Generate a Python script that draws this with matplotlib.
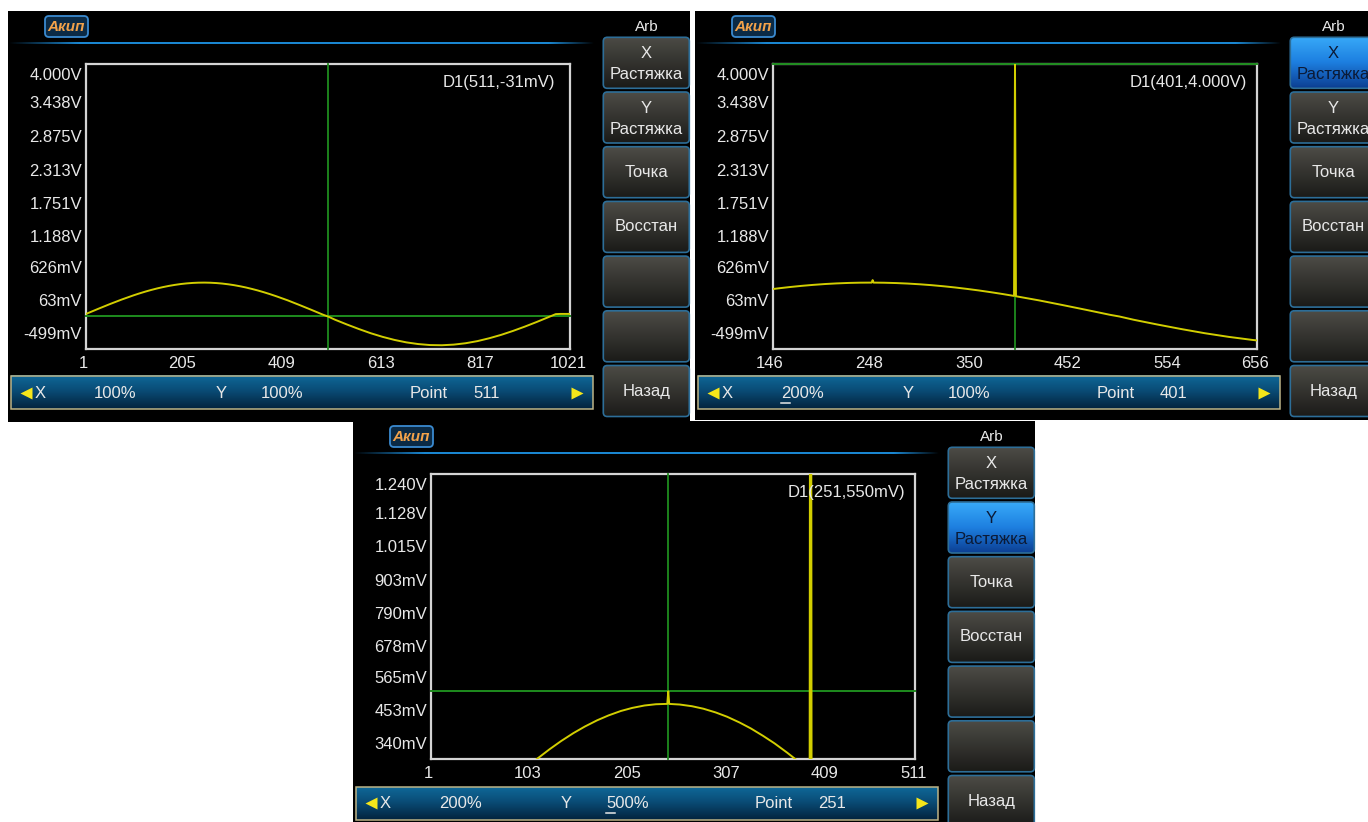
import numpy as np
import matplotlib
matplotlib.use("Agg")
import matplotlib.pyplot as plt
from matplotlib.patches import Rectangle, FancyBboxPatch
from matplotlib.colors import to_rgb

plt.rcParams['font.family'] = ['Liberation Sans', 'DejaVu Sans']

# ---------------------------------------------------------------- data
# arbitrary waveform samples: point index -> output level (V)
WAVE_POINTS = [1, 26, 51, 76, 101, 113, 126, 138, 151, 163, 176, 188, 201,
               213, 226, 238, 250, 251, 252, 263, 276, 288, 301, 313, 326,
               338, 351, 363, 376, 388, 400, 401, 402, 426, 451, 476, 501,
               511, 526, 551, 576, 601, 626, 651, 676, 701, 726, 751, 776,
               801, 826, 851, 876, 901, 926, 951, 976, 991, 1001, 1021]
WAVE_VOLTS = [0.0100, 0.0890, 0.1660, 0.2390, 0.3062, 0.3360, 0.3661, 0.3918,
              0.4171, 0.4379, 0.4578, 0.4733, 0.4874, 0.4972, 0.5049, 0.5089,
              0.5100, 0.5100, 0.5099, 0.5080, 0.5026, 0.4947, 0.4828, 0.4692,
              0.4511, 0.4321, 0.4083, 0.3846, 0.3558, 0.3275, 0.2972, 0.2946,
              0.2920, 0.2270, 0.1520, 0.0750, -0.0040, -0.0310, -0.0830,
              -0.1590, -0.2310, -0.2980, -0.3560, -0.4050, -0.4440, -0.4710,
              -0.4870, -0.4900, -0.4800, -0.4580, -0.4240, -0.3780, -0.3240,
              -0.2610, -0.1920, -0.1180, -0.0400, 0.0070, 0.0100, 0.0100]

# points edited by hand on the second and third screens
EDIT_POINTS = [251, 401]
EDIT_VOLTS = [0.550, 4.000]

# cursor D1 on each screen
CURSOR_POINTS = [511, 401, 251]
CURSOR_VOLTS = [-0.031, 4.000, 0.550]

# visible ranges of each screen
X_RANGES = [(1, 1021), (146, 656), (1, 511)]
Y_RANGES = [(-0.55, 4.0), (-0.55, 4.0), (0.335, 1.240)]

X_LABELS = [["1", "205", "409", "613", "817", "1021"],
            ["146", "248", "350", "452", "554", "656"],
            ["1", "103", "205", "307", "409", "511"]]
Y_LABELS_FULL = ["4.000V", "3.438V", "2.875V", "2.313V", "1.751V", "1.188V",
                 "626mV", "63mV", "-499mV"]
Y_LABELS_X5 = ["1.240V", "1.128V", "1.015V", "903mV", "790mV", "678mV",
               "565mV", "453mV", "340mV"]
Y_LABELS = [Y_LABELS_FULL, Y_LABELS_FULL, Y_LABELS_X5]

X_SCALE = ["100%", "200%", "200%"]
Y_SCALE = ["100%", "100%", "500%"]
EDITED = [False, True, True]
ACTIVE_KEY = [None, 0, 1]
SELECTED_FIELD = [None, "x", "y"]

MENU_KEYS = ["X\nРастяжка", "Y\nРастяжка", "Точка", "Восстан", "", "", "Назад"]

# ---------------------------------------------------------------- layout
W, H = 1368, 822
SCREENS = [(8, 11, 690, 422), (695, 11, 1368, 420), (353, 421, 1035, 822)]
BOX = (78, 53, 562, 338)                    # plot frame inside a screen
Y_LABEL_ROWS = [64, 93, 126, 160, 193, 226, 257, 290, 323]
X_LABEL_COLS = [75, 174.5, 274, 373, 472, 560.5]

TEXT = '#e8e8e8'
GREEN = '#1e8c1e'
TRACE = '#d2ce00'
FS = 12

fig = plt.figure(figsize=(W / 100, H / 100), dpi=100, facecolor='white')
bg = fig.add_axes([0, 0, 1, 1])
bg.axis('off')


def gradient(ax, x0, y0, x1, y1, stops, clip=None, z=1):
    t = np.linspace(0, 1, 96)
    pos = [s[0] for s in stops]
    cols = np.array([to_rgb(s[1]) for s in stops])
    rgb = np.stack([np.interp(t, pos, cols[:, i]) for i in range(3)], axis=-1)
    im = ax.imshow(rgb[:, None, :], extent=(x0, x1, y1, y0), aspect='auto',
                   interpolation='bilinear', origin='upper', zorder=z)
    if clip is not None:
        im.set_clip_path(clip)
    return im


def vfmt(v):
    return f"{v:.3f}V" if abs(v) >= 1 else f"{v * 1000:.0f}mV"


def draw_key(x, y, w, h, label, active):
    patch = FancyBboxPatch((x, y), w, h, boxstyle='round,pad=0,rounding_size=4',
                           fc='none', ec='#2d6e98', lw=1.2, zorder=3)
    bg.add_patch(patch)
    if active:
        stops = [(0, '#38aaf8'), (0.5, '#1d7fe0'), (1, '#0c3f93')]
        col = '#0b1a36'
    else:
        stops = [(0, '#4d4c46'), (1, '#1a1a18')]
        col = TEXT
    gradient(bg, x, y, x + w, y + h, stops, clip=patch, z=2)
    rows = label.split('\n')
    if len(rows) == 2:
        bg.text(x + w / 2, y + 16.5, rows[0], color=col, fontsize=12,
                ha='center', va='center', zorder=4)
        bg.text(x + w / 2, y + 37, rows[1], color=col, fontsize=12,
                ha='center', va='center', zorder=4)
    elif label:
        bg.text(x + w / 2, y + h / 2, label, color=col, fontsize=12,
                ha='center', va='center', zorder=4)


pts = np.array(WAVE_POINTS, dtype=float)

for i, (x0, y0, x1, y1) in enumerate(SCREENS):
    ox, oy = x0, y0
    bg.add_patch(Rectangle((x0, y0), x1 - x0, y1 - y0, fc='black', ec='none', zorder=0.5))

    # logo
    bg.add_patch(FancyBboxPatch((ox + 37, oy + 5), 43, 21,
                                boxstyle='round,pad=0,rounding_size=4',
                                fc='#0b2a45', ec='#3a8ad0', lw=1.3, zorder=2))
    bg.text(ox + 58.5, oy + 16, 'Акип', color='#f2a24a', fontsize=11,
            fontweight='bold', fontstyle='italic', ha='center', va='center', zorder=3)

    # header separator, fading at both ends
    n = 300
    xc = np.linspace(0, 587, n)
    alpha = np.clip(np.minimum(xc / 70, (587 - xc) / 45), 0, 1)
    strip = np.zeros((1, n, 4))
    strip[..., :3] = to_rgb('#1a86d0')
    strip[0, :, 3] = alpha
    bg.imshow(strip, extent=(ox, ox + 587, oy + 33.3, oy + 31.3), aspect='auto',
              interpolation='bilinear', origin='upper', zorder=2)

    bg.text(ox + 638.3, oy + 15.7, 'Arb', color=TEXT, fontsize=11,
            ha='center', va='center', zorder=3)

    # soft keys
    for k, lab in enumerate(MENU_KEYS):
        draw_key(ox + 595.3, oy + 26.3 + 54.7 * k, 86, 51, lab, ACTIVE_KEY[i] == k)

    # plot frame
    ax = fig.add_axes([(ox + BOX[0]) / W, 1 - (oy + BOX[3]) / H,
                       (BOX[2] - BOX[0]) / W, (BOX[3] - BOX[1]) / H])
    ax.set_facecolor('black')
    ax.set_xlim(*X_RANGES[i])
    ax.set_ylim(*Y_RANGES[i])
    ax.set_xticks([])
    ax.set_yticks([])
    for s in ax.spines.values():
        s.set_color('#d4d4d4')
        s.set_linewidth(1.6)

    vals = np.array(WAVE_VOLTS, dtype=float)
    if EDITED[i]:
        for p, v in zip(EDIT_POINTS, EDIT_VOLTS):
            vals[pts == p] = v
    cp, cv = CURSOR_POINTS[i], CURSOR_VOLTS[i]
    ax.axvline(cp, color=GREEN, lw=1.3, zorder=3, clip_on=False)
    ax.axhline(cv, color=GREEN, lw=1.4, zorder=3, clip_on=False)
    ax.plot(pts, vals, color=TRACE, lw=1.4, zorder=4)

    ax.text(ox + 435, oy + 71, f"D1({cp},{vfmt(cv)})", color=TEXT, fontsize=FS,
            ha='left', va='center', transform=bg.transData, zorder=5)

    # axis labels
    for lab, row in zip(Y_LABELS[i], Y_LABEL_ROWS):
        bg.text(ox + 74, oy + row, lab, color=TEXT, fontsize=FS,
                ha='right', va='center', zorder=3)
    for lab, col in zip(X_LABELS[i], X_LABEL_COLS):
        bg.text(ox + col, oy + 352.5, lab, color=TEXT, fontsize=FS,
                ha='center', va='center', zorder=3)

    # status bar
    bar = Rectangle((ox + 3, oy + 365.5), 581.5, 33, fc='none', ec='#bdb487', lw=1.1, zorder=3)
    bg.add_patch(bar)
    gradient(bg, ox + 3, oy + 365.5, ox + 584.5, oy + 398.5,
             [(0, '#0f6898'), (0.45, '#0a4c76'), (1, '#03233d')], z=2)
    ty = oy + 382
    bg.plot([ox + 18], [ty], marker='<', ms=8, color='#f5e61a', mec='none', zorder=4)
    bg.plot([ox + 569], [ty], marker='>', ms=8, color='#f5e61a', mec='none', zorder=4)
    fields = [(27, 'X'), (86, X_SCALE[i]), (208, 'Y'), (253, Y_SCALE[i]),
              (402, 'Point'), (465, str(cp))]
    for fx, txt in fields:
        bg.text(ox + fx, ty, txt, color=TEXT, fontsize=FS, ha='left', va='center', zorder=4)
    if SELECTED_FIELD[i] is not None:
        ux = 86 if SELECTED_FIELD[i] == 'x' else 253
        bg.plot([ox + ux, ox + ux + 9], [ty + 10, ty + 10], color=TEXT, lw=1.1, zorder=4)

bg.set_xlim(0, W)
bg.set_ylim(H, 0)

fig.savefig('out.png', dpi=100, facecolor='white')
